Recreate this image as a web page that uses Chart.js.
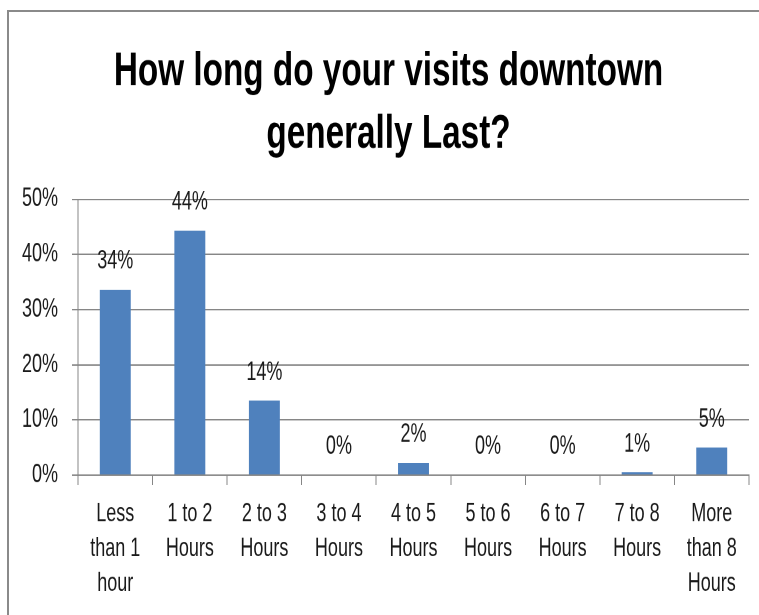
<!DOCTYPE html>
<html>
<head>
<meta charset="utf-8">
<script src="https://cdn.jsdelivr.net/npm/chart.js@4"></script>
<style>
  html, body { margin: 0; padding: 0; background: #ffffff; overflow: hidden; }
  #frame { position: absolute; left: 7px; top: 10px; width: 800px; height: 700px;
           border-left: 2px solid #8a8a8a; border-top: 2px solid #8a8a8a; }
  #wrap { position: absolute; left: 0; top: 0; width: 759px; height: 433px;
          transform: scaleY(1.42032); transform-origin: 0 0; }
  canvas { display: block; }
</style>
</head>
<body>
<div id="frame"></div>
<div id="wrap"><canvas id="c" width="759" height="433" style="width:759px;height:433px;"></canvas></div>
<script>
const titleLines = ['How long do your visits downtown', 'generally Last?'];
const categories = [
  ['Less', 'than 1', 'hour'],
  ['1 to 2', 'Hours'],
  ['2 to 3', 'Hours'],
  ['3 to 4', 'Hours'],
  ['4 to 5', 'Hours'],
  ['5 to 6', 'Hours'],
  ['6 to 7', 'Hours'],
  ['7 to 8', 'Hours'],
  ['More', 'than 8', 'Hours']
];
const percentValues = [33.6, 44.3, 13.5, 0, 2.2, 0, 0, 0.5, 5.0];
const yTickValues = [0, 10, 20, 30, 40, 50];

const FONT = "'Liberation Sans', Arial, sans-serif";
const TEXT = '#1a1a1a';
const GRID = '#868686';

const dataLabels = {
  id: 'dataLabels',
  afterDatasetsDraw(chart) {
    const ctx = chart.ctx;
    const meta = chart.getDatasetMeta(0);
    ctx.save();
    ctx.font = '18px ' + FONT;
    ctx.fillStyle = TEXT;
    ctx.textAlign = 'center';
    ctx.textBaseline = 'alphabetic';
    meta.data.forEach((bar, i) => {
      const v = chart.data.datasets[0].data[i];
      ctx.fillText(Math.round(v) + '%', bar.x, bar.y - 14.8);
    });
    ctx.restore();
  }
};

const titleShift = {
  id: 'titleShift',
  afterLayout(chart) {
    if (chart.titleBlock) { chart.titleBlock.left = 28; }
  }
};

new Chart(document.getElementById('c'), {
  type: 'bar',
  data: {
    labels: categories,
    datasets: [{
      data: percentValues,
      backgroundColor: '#4f81bd',
      borderWidth: 0,
      barPercentage: 0.415,
      categoryPercentage: 1.0
    }]
  },
  options: {
    responsive: false,
    maintainAspectRatio: false,
    animation: false,
    devicePixelRatio: 2,
    layout: { padding: { left: 0, right: 10, top: 0, bottom: 0 } },
    plugins: {
      legend: { display: false },
      tooltip: { enabled: false },
      title: {
        display: true,
        text: titleLines,
        color: '#000000',
        font: { family: FONT, size: 33.3, weight: 'bold', lineHeight: 1.33 },
        padding: { top: 28.6, bottom: 23.1 }
      }
    },
    scales: {
      x: {
        grid: {
          display: true,
          offset: true,
          drawOnChartArea: false,
          drawTicks: true,
          tickLength: 7,
          color: GRID,
          lineWidth: 1
        },
        border: { display: true, color: GRID, width: 1 },
        ticks: {
          color: TEXT,
          font: { family: FONT, size: 18, lineHeight: 1.367 },
          padding: 8,
          maxRotation: 0,
          minRotation: 0,
          autoSkip: false
        },
        afterFit(scale) { scale.height = 98.5; }
      },
      y: {
        min: 0,
        max: 50,
        afterBuildTicks(scale) { scale.ticks = yTickValues.map(v => ({ value: v })); },
        grid: {
          color: GRID,
          lineWidth: 1,
          drawTicks: true,
          tickLength: 6
        },
        border: { display: true, color: GRID, width: 1 },
        ticks: {
          color: TEXT,
          font: { family: FONT, size: 18 },
          padding: 14,
          callback: v => v + '%'
        },
        afterFit(scale) { scale.width = 78; }
      }
    }
  },
  plugins: [dataLabels, titleShift]
});
</script>
</body>
</html>
